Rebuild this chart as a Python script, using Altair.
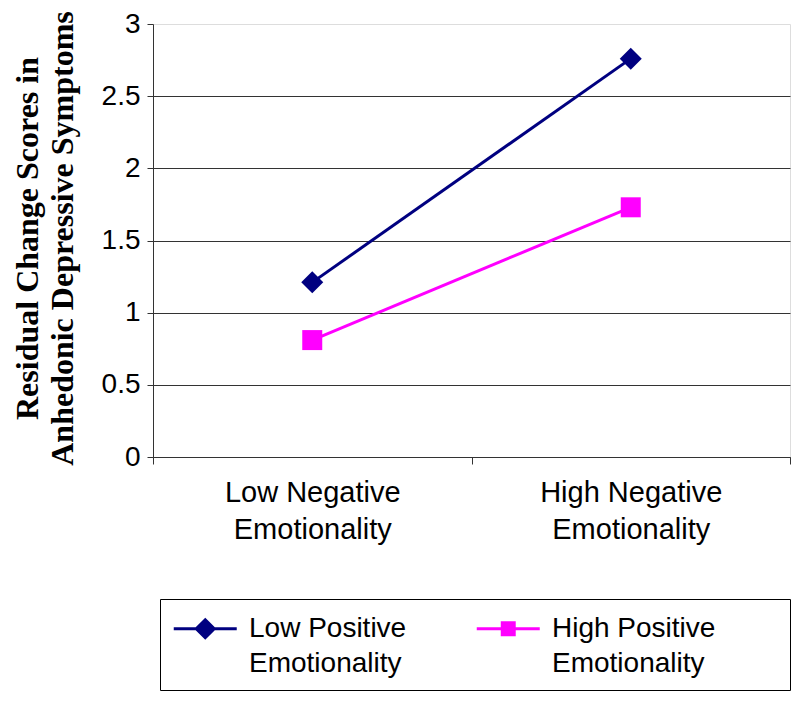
import altair as alt
import pandas as pd

categories = ["Low Negative Emotionality", "High Negative Emotionality"]
series = ["Low Positive Emotionality", "High Positive Emotionality"]
low_positive = [1.21, 2.76]
high_positive = [0.81, 1.73]
colors = ["#000080", "#FF00FF"]
shapes = ["diamond", "square"]
marker_sizes = [484, 400]
y_ticks = [0, 0.5, 1, 1.5, 2, 2.5, 3]
y_title = ["Residual Change Scores in", "Anhedonic Depressive Symptoms"]

rows = []
for s, vals in zip(series, [low_positive, high_positive]):
    for c, v in zip(categories, vals):
        rows.append({"category": c, "series": s, "value": v})
df = pd.DataFrame(rows)

split_expr = ("[slice(datum.label, 0, lastindexof(datum.label, ' ')), "
              "slice(datum.label, lastindexof(datum.label, ' ') + 1)]")
pad = "\u00a0" * 8 + "\u200b"
legend_expr = ("[slice(datum.label, 0, lastindexof(datum.label, ' ')) + (datum.value == '%s' ? '%s' : ''), "
               "slice(datum.label, lastindexof(datum.label, ' ') + 1)]") % (series[1], pad)

# legend keys: a line segment with the series marker on it
diamond_path = "M-1,0L3,0M1,-0.57L1.57,0L1,0.57L0.43,0Z"
square_path = "M-1,0L3,0M0.62,-0.38L1.38,-0.38L1.38,0.38L0.62,0.38Z"

x_enc = alt.X(
    "category:N", sort=categories,
    scale=alt.Scale(type="band", paddingInner=0, paddingOuter=0),
    axis=alt.Axis(title=None, labelAngle=0, tickBand="extent", labelExpr=split_expr,
                  labelFont="Liberation Sans", labelFontSize=29, labelLineHeight=37,
                  labelPadding=14, labelBaseline="top", tickSize=7, tickColor="#333",
                  domainColor="#333", labelColor="black", grid=False, labelLimit=0),
)
y_enc = alt.Y(
    "value:Q",
    scale=alt.Scale(domain=[0, 3], nice=False, zero=True),
    axis=alt.Axis(values=y_ticks, title=y_title, grid=True, gridColor="#333",
                  gridOpacity={"condition": {"test": "datum.value >= 3", "value": 0}, "value": 1},
                  tickSize=6, tickColor="#333", domainColor="#333", labelPadding=7,
                  labelFont="Liberation Sans", labelFontSize=28, labelColor="black",
                  labelExpr="format(datum.value, '~g')",
                  titleFont="Liberation Serif", titleFontSize=32, titleFontWeight="bold",
                  titleColor="black", titleLineHeight=35, titleX=-109, titleY=214,
                  titleAngle=270, titleAlign="center", titleBaseline="bottom"),
)

legend = alt.Legend(
    title=None, orient="none", legendX=7, legendY=575, direction="horizontal",
    columns=2, columnPadding=63, padding=12, strokeColor="black",
    symbolSize=992, symbolStrokeWidth=3, symbolOpacity=1,
    labelFont="Liberation Sans", labelFontSize=28,
    labelOffset=42, labelExpr=legend_expr, labelLimit=0, labelColor="black",
)

base = alt.Chart(df)

layers = []
for s, col in zip(series, colors):
    layers.append(
        base.transform_filter(alt.datum.series == s)
        .mark_line(strokeWidth=3, color=col)
        .encode(x=x_enc, y=y_enc)
    )
for s, col, shp, sz in zip(series, colors, shapes, marker_sizes):
    layers.append(
        base.transform_filter(alt.datum.series == s)
        .mark_point(shape=shp, filled=True, size=sz, opacity=1, color=col)
        .encode(x=x_enc, y=y_enc)
    )

legend_layer = base.mark_point(
    filled=True, strokeWidth=3, opacity=0, size=1
).encode(
    x=x_enc, y=y_enc,
    fill=alt.Fill("series:N", scale=alt.Scale(domain=series, range=colors), legend=legend),
    stroke=alt.Stroke("series:N", scale=alt.Scale(domain=series, range=colors), legend=legend),
    shape=alt.Shape("series:N", scale=alt.Scale(domain=series, range=[diamond_path, square_path]), legend=legend),
)
layers.append(legend_layer)

chart = alt.layer(*layers).properties(
    width=637, height=433,
    autosize=alt.AutoSizeParams(type="none"),
    padding={"left": 145, "top": 16, "right": 2, "bottom": 245},
).configure_view(stroke=None).configure(
    style={"guide-label": {"lineHeight": 35}}
)

chart.save("out.html", embed_options={"renderer": "svg", "actions": False})
